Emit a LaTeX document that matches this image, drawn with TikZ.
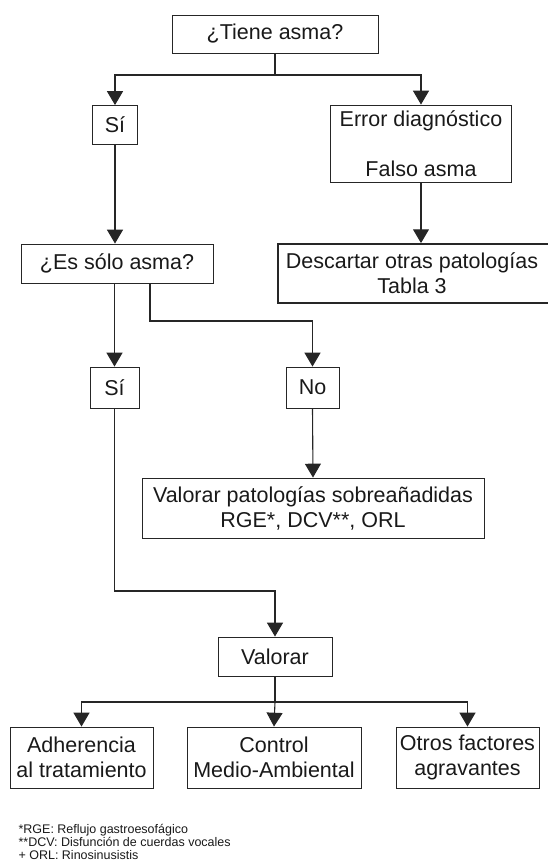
\documentclass[tikz,border=0pt]{standalone}
\usepackage{fontspec}
\setmainfont{Liberation Sans}
\usetikzlibrary{arrows.meta}
\begin{document}
\begin{tikzpicture}
          [
            x=1pt, y=-1pt,
            line width=1.1pt, draw=black!85,
            caja/.style={draw=black!85, line width=0.9pt, inner sep=0pt, align=center,
              text=black!90, font=\fontsize{21.5}{25}\selectfont},
            flecha/.style={line width=1.1pt, draw=black!85, -{Triangle[scale=2.4]}},
            nota/.style={align=left, inner sep=0pt, text=black!90, font=\fontsize{12.5}{13}\selectfont}
          ]
          \useasboundingbox (0,0) rectangle (547,863);
          % preguntas
          \node [caja, minimum width=206, minimum height=38] (tiene) at (275,34) {¿Tiene asma?};
          \node [caja, minimum width=45, minimum height=39] (si1) at (115,125) {Sí};
          \node [caja, minimum width=181, minimum height=77] (error) at (421,143.5) {Error diagnóstico\\[25pt]Falso asma};
          \node [caja, line width=1.8pt, minimum width=330, minimum height=59] (descartar) at (443,273.5) {\hspace*{-62pt}Descartar otras patologías\\\hspace*{-62pt}Tabla 3};
          \node [caja, minimum width=192, minimum height=39] (essolo) at (117,263.5) {¿Es sólo asma?};
          \node [caja, minimum width=49, minimum height=41] (si2) at (114.5,387.5) {Sí};
          \node [caja, minimum width=53, minimum height=41] (no) at (312.5,387.5) {No};
          \node [caja, minimum width=342, minimum height=60] (valpat) at (313,508) {Valorar patologías sobreañadidas\\RGE*, DCV**, ORL};
          \node [caja, minimum width=114, minimum height=39] (valorar) at (275,656.5) {Valorar};
          % valorar
          \node [caja, minimum width=143, minimum height=61] (adh) at (81.5,757.5) {Adherencia\\al tratamiento};
          \node [caja, minimum width=174, minimum height=61] (control) at (274,757.5) {Control\\Medio-Ambiental};
          \node [caja, minimum width=143, minimum height=61] (otros) at (467.5,757.5) {Otros factores\\agravantes};
          % notas
          \node [nota, anchor=base west] (notas) at (18,859) {*RGE: Reflujo gastroesofágico\\**DCV: Disfunción de cuerdas vocales\\+ ORL: Rinosinusistis};
          % cruces
          \coordinate (c1) at (275,75);
          \coordinate (c2) at (150,321);
          \coordinate (c3) at (114.5,591);
          \coordinate (c4) at (275,702);
          % conectores
          \draw (tiene.south) -- (c1);
          \draw [flecha] (c1) -| (si1.north);
          \draw [flecha] (c1) -| (error.north);
          \draw [flecha] (error.south) -- (error.south |- descartar.north);
          \draw [flecha] (si1.south) -- (si1.south |- essolo.north);
          \draw [flecha] (si2.north |- essolo.south) -- (si2.north);
          \draw [flecha] (c2 |- essolo.south) -- (c2) -| (no.north);
          \draw [flecha] (no.south) -- (valpat.north);
          \draw [flecha] (si2.south) -- (c3) -| (valorar.north);
          \draw (valorar.south) -- (c4);
          \draw [flecha] (c4) -| (adh.north);
          \draw [flecha] (c4) -- (control.north);
          \draw [flecha] (c4) -| (otros.north);
        \end{tikzpicture}
\end{document}
